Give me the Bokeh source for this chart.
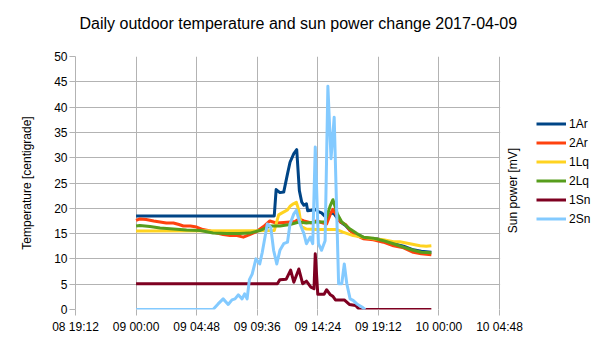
import math
import pandas as pd
from bokeh.plotting import figure
from bokeh.models import (Range1d, FixedTicker, DatetimeTickFormatter, Legend, LegendItem, Label, BoxAnnotation, Title)
from bokeh.embed import file_html
from bokeh.resources import INLINE

# ---- data (hours after 2017-04-09 00:00, values) ----
t_1Ar = [0, 10.95, 11.1, 11.4, 11.7, 12.0, 12.2, 12.5, 12.73, 12.94, 13.13, 13.3, 13.5, 13.6, 13.9, 14.2, 14.4, 14.7,
         14.98, 15.2, 15.5, 15.7, 15.9, 16.2, 16.6, 16.96, 17.5, 18.0, 18.4, 19.1, 19.6, 20.4, 21.2, 21.97, 22.6, 23.4]
v_1Ar = [18.5, 18.5, 23.7, 23.1, 23.2, 26.8, 29.1, 30.8, 31.6, 23.5, 21.2, 20.6, 20.9, 19.5, 19.6, 19.8, 19.4, 19.1,
         18.4, 18.5, 19.1, 18.9, 18.2, 17.3, 16.6, 15.6, 14.8, 14.3, 14.1, 14.0, 13.6, 13.0, 12.5, 11.8, 11.5, 11.3]

t_2Ar = [0, 0.3, 0.8, 1.4, 1.9, 2.4, 2.96, 3.4, 3.75, 4.3, 4.8, 5.3, 5.9, 6.4, 6.9, 7.45, 8.0, 8.5, 9.0, 9.56,
         10.1, 10.6, 11.1, 11.7, 12.2, 12.6, 12.9, 13.3, 13.6, 13.9, 14.3, 14.7, 15.1, 15.4, 15.6, 15.9, 16.2,
         16.6, 16.96, 17.5, 18.0, 18.8, 19.6, 20.4, 21.2, 21.97, 22.6, 23.4]
v_2Ar = [17.6, 17.9, 17.8, 17.5, 17.3, 17.1, 17.1, 16.8, 16.5, 16.5, 16.3, 15.8, 15.5, 15.1, 14.8, 14.6, 14.6, 14.3,
         14.8, 15.4, 16.4, 17.5, 17.1, 17.2, 17.3, 17.4, 17.9, 17.5, 17.3, 17.1, 17.5, 17.2, 16.9, 18.9, 19.8, 18.6,
         17.3, 16.8, 15.6, 14.6, 14.0, 13.8, 13.3, 12.6, 12.2, 11.3, 11.0, 10.8]

t_1Lq = [0, 10.95, 11.3, 11.5, 12.0, 12.2, 12.47, 12.7, 12.9, 13.1, 13.5, 14.3, 15.1, 15.9, 16.4, 17.2, 18.0, 18.8,
         19.6, 20.4, 20.9, 21.7, 22.5, 23.0, 23.4]
v_1Lq = [15.5, 15.6, 18.7, 19.0, 19.7, 20.4, 20.9, 21.2, 19.6, 16.4, 15.9, 15.8, 15.8, 15.8, 15.3, 14.6, 14.3, 14.0,
         13.8, 13.4, 13.4, 13.0, 12.6, 12.5, 12.6]

t_2Lq = [0, 0.3, 1.1, 1.9, 2.96, 4.0, 5.1, 6.1, 7.2, 8.2, 9.0, 9.8, 10.6, 11.4, 12.2, 12.9, 13.5, 14.3, 14.98,
         15.4, 15.6, 15.95, 16.3, 16.96, 17.5, 18.0, 18.8, 19.6, 20.4, 21.2, 21.97, 22.6, 23.4]
v_2Lq = [16.5, 16.6, 16.4, 16.1, 15.9, 15.7, 15.6, 15.1, 15.0, 15.0, 15.1, 15.6, 16.5, 16.5, 16.8, 17.3, 17.1, 17.3,
         17.3, 20.6, 21.7, 18.9, 17.3, 15.9, 15.0, 14.3, 14.1, 13.6, 13.0, 12.3, 11.7, 11.3, 11.2]

t_1Sn = [0, 11.2, 11.4, 11.9, 12.25, 12.5, 12.9, 13.2, 13.5, 13.85, 14.1, 14.2, 14.4, 14.9, 15.1, 15.4, 15.6, 15.8,
         16.5, 16.9, 17.4, 17.7, 23.4]
v_1Sn = [5.1, 5.1, 5.9, 6.0, 7.8, 5.4, 8.0, 5.1, 5.6, 4.4, 4.1, 11.0, 3.0, 3.0, 3.9, 2.9, 2.6, 1.9,
         1.9, 1.0, 0.8, 0.0, 0.0]

t_2Sn = [0, 6.1, 6.5, 6.9, 7.3, 7.6, 7.84, 8.1, 8.4, 8.6, 8.8, 8.98, 9.2, 9.5, 9.8, 10.0, 10.4, 10.67, 10.9, 11.15,
         11.4, 11.7, 12.0, 12.2, 12.5, 12.7, 13.0, 13.3, 13.5, 13.8, 14.0, 14.2, 14.45, 14.7, 14.98, 15.2, 15.45,
         15.7, 16.05, 16.3, 16.5, 16.7, 16.96, 17.2, 17.5, 17.9, 18.15]
v_2Sn = [0, 0, 1.1, 2.1, 1.0, 1.9, 2.1, 2.9, 2.1, 3.1, 2.1, 5.9, 7.0, 10.0, 9.0, 11.3, 16.9, 16.3, 11.7, 9.0,
         11.7, 13.0, 13.3, 16.9, 18.9, 19.6, 16.9, 15.0, 13.0, 14.3, 13.0, 32.1, 13.0, 11.7, 13.6, 44.1, 29.8,
         38.0, 5.1, 5.1, 9.0, 5.1, 2.1, 1.8, 1.1, 0.5, 0]

series_names = ["1Ar", "2Ar", "1Lq", "2Lq", "1Sn", "2Sn"]
series_t = [t_1Ar, t_2Ar, t_1Lq, t_2Lq, t_1Sn, t_2Sn]
series_v = [v_1Ar, v_2Ar, v_1Lq, v_2Lq, v_1Sn, v_2Sn]
colors = ["#004586", "#ff420e", "#ffd320", "#579d1c", "#7e0021", "#83caff"]

base = pd.Timestamp("2017-04-09 00:00")
tick_hours = [-4.8, 0, 4.8, 9.6, 14.4, 19.2, 24.0, 28.8]
y_ticks = [0, 5, 10, 15, 20, 25, 30, 35, 40, 45, 50]

def to_dt(hours):
    return [base + pd.Timedelta(hours=h) for h in hours]

FONT = "Liberation Sans"
GRID = "#b3b3b3"

# layout: plot area 424 px wide, then 106 px of side space (legend etc.) kept inside the frame
PLOT_W, SIDE_W = 424, 106
span = tick_hours[-1] - tick_hours[0]
view_end_h = tick_hours[-1] + span * SIDE_W / PLOT_W

x_start = base + pd.Timedelta(hours=tick_hours[0])
x_view_end = base + pd.Timedelta(hours=view_end_h)

p = figure(width=605, height=340, x_axis_type="datetime", output_backend="svg", toolbar_location=None,
           x_range=Range1d(x_start, x_view_end), y_range=Range1d(0, 50),
           min_border_left=75, min_border_right=0, min_border_top=56, min_border_bottom=31,
           title="Daily outdoor temperature and sun power change 2017-04-09")
p.outline_line_color = None
p.background_fill_color = "white"
p.border_fill_color = "white"

p.title.align = "left"
p.title.vertical_align = "bottom"
p.title.offset = 4
p.title.standoff = 2
p.title.text_font = FONT
p.title.text_font_size = "16px"
p.title.text_font_style = "normal"
p.title.text_color = "#000000"

# empty spacer between title and plot area
p.add_layout(Title(text=" ", text_font_size="1px", standoff=21), "above")

tick_ms = [(base + pd.Timedelta(hours=h)).timestamp() * 1000 for h in tick_hours]
xa = p.xaxis[0]
xa.ticker = FixedTicker(ticks=tick_ms)
fmt = "%d %H:%M"
xa.formatter = DatetimeTickFormatter(microseconds=fmt, milliseconds=fmt, seconds=fmt, minsec=fmt, minutes=fmt,
                                     hourmin=fmt, hours=fmt, days=fmt, months=fmt, years=fmt)
ya = p.yaxis[0]
ya.ticker = FixedTicker(ticks=y_ticks)
ya.axis_label = "Temperature [centigrade]"
ya.axis_label_standoff = 17

for ax in (xa, ya):
    ax.axis_line_color = GRID
    ax.major_tick_line_color = GRID
    ax.major_tick_out = 6
    ax.major_tick_in = 0
    ax.minor_tick_line_color = None
    ax.major_label_text_font = FONT
    ax.major_label_text_font_size = "12px"
    ax.major_label_text_color = "#000000"
    ax.axis_label_text_font = FONT
    ax.axis_label_text_font_size = "12px"
    ax.axis_label_text_font_style = "normal"
    ax.axis_label_text_color = "#000000"
xa.axis_line_color = None  # the y=0 grid line serves as the bottom axis line
xa.major_label_standoff = 4
ya.major_label_standoff = 2

p.xgrid.grid_line_color = GRID
p.ygrid.grid_line_color = GRID

renderers = []
for name, t, v, c in zip(series_names, series_t, series_v, colors):
    r = p.line(to_dt(t), v, line_color=c, line_width=3, line_join="round")
    renderers.append(r)

# blank out the grid in the side area to the right of the plot area
cover = BoxAnnotation(left=base + pd.Timedelta(hours=tick_hours[-1] + 0.05), fill_color="white",
                      fill_alpha=1.0, line_color=None, level="annotation")
p.add_layout(cover)

legend = Legend(items=[LegendItem(label=n, renderers=[r]) for n, r in zip(series_names, renderers)],
                location=(461, 83), orientation="vertical", padding=0, margin=0, spacing=4,
                glyph_width=30, glyph_height=15, label_height=15, label_standoff=3,
                label_text_font=FONT, label_text_font_size="12px", label_text_color="#000000",
                border_line_color=None, background_fill_alpha=0)
p.add_layout(legend, "center")

right_title = Label(x=437, y=119, x_units="screen", y_units="screen", text="Sun power [mV]",
                    angle=math.pi / 2, text_align="center", text_baseline="middle",
                    text_font=FONT, text_font_size="12px", text_color="#000000")
p.add_layout(right_title)

open("out.html", "w").write(file_html(p, INLINE))
